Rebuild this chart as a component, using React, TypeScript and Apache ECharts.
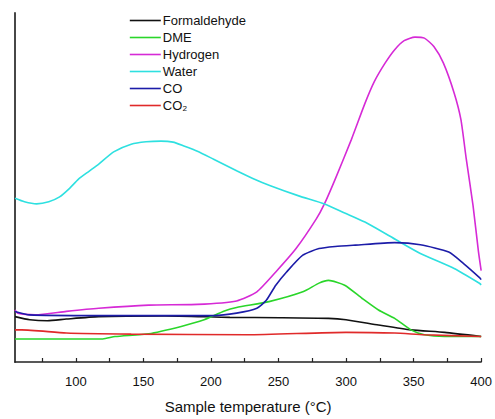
import React, { useEffect, useRef } from "react";
import * as echarts from "echarts";

// Temperature-programmed desorption traces (arbitrary signal units)
const xTickValues = [75, 100, 125, 150, 175, 200, 225, 250, 275, 300, 325, 350, 375, 400];
const xLabelValues = [100, 150, 200, 250, 300, 350, 400];

const formaldehydeT = [55, 66, 79, 93, 117, 166, 214, 251, 287, 300, 324, 348, 373, 400];
const formaldehydeV = [13.0, 12.1, 11.8, 12.3, 13.0, 13.2, 12.8, 12.7, 12.5, 12.1, 10.6, 9.2, 8.5, 7.3];

const dmeT = [55, 120, 129, 154, 178, 195, 210, 219, 243, 268, 280, 287, 299, 312, 324, 336, 348, 358, 373, 400];
const dmeV = [6.6, 6.6, 7.3, 8.1, 10.2, 12.1, 14.6, 15.6, 17.3, 20.1, 22.6, 23.4, 22.0, 18.2, 14.9, 12.5, 9.2, 7.8, 7.3, 7.3];

const hydrogenT = [55, 57, 70, 93, 117, 154, 190, 219, 234, 248, 263, 278, 284, 292, 304, 314, 321, 329, 336, 343, 351, 358, 365, 372, 380, 385, 389, 394, 398, 400];
const hydrogenV = [14.9, 14.0, 13.5, 14.5, 15.4, 16.3, 16.5, 17.5, 20.1, 25.8, 32.5, 41.0, 45.3, 52.4, 63.8, 74.1, 80.4, 85.7, 89.5, 92.1, 93.1, 92.8, 90.4, 85.7, 77.1, 69.5, 58.1, 44.8, 31.6, 26.2];

const waterT = [55, 62, 71, 80, 88, 95, 102, 110, 117, 128, 141, 152, 163, 172, 180, 190, 202, 219, 231, 244, 265, 284, 299, 314, 338, 355, 380, 399, 400];
const waterV = [46.9, 45.9, 45.3, 45.9, 47.3, 49.6, 52.4, 54.7, 56.7, 60.2, 62.4, 63.1, 63.3, 63.0, 61.9, 60.4, 58.1, 54.8, 52.6, 50.5, 47.6, 45.3, 42.7, 40.1, 34.8, 31.1, 26.8, 22.5, 22.1];

const coT = [55, 66, 117, 166, 202, 219, 234, 241, 248, 256, 268, 280, 292, 307, 336, 355, 376, 387, 399, 400];
const coV = [14.5, 13.5, 13.3, 13.3, 13.3, 14.0, 15.4, 17.7, 22.0, 25.8, 30.6, 32.5, 33.1, 33.5, 34.2, 33.6, 31.5, 28.2, 24.1, 23.6];

const co2T = [55, 60, 93, 141, 227, 300, 336, 358, 400];
const co2V = [9.2, 9.2, 8.3, 8.0, 7.8, 8.5, 8.3, 7.8, 7.3];

const FONT = "'Liberation Sans', Arial, sans-serif";

const pairs = (t: number[], v: number[]) => t.map((x, i) => [x, v[i]]);

const traces = [
  { name: "Formaldehyde", color: "#111111", t: formaldehydeT, v: formaldehydeV },
  { name: "DME", color: "#2ad62a", t: dmeT, v: dmeV },
  { name: "Hydrogen", color: "#d62ad6", t: hydrogenT, v: hydrogenV },
  { name: "Water", color: "#2ee0e0", t: waterT, v: waterV },
  { name: "CO", color: "#1c1ca8", t: coT, v: coV },
  { name: "CO\u2082", color: "#e02a2a", t: co2T, v: co2V },
];

export default function App() {
  const ref = useRef<HTMLDivElement>(null);

  useEffect(() => {
    if (!ref.current) return;
    const chart = echarts.init(ref.current, null, { renderer: "svg" });
    chart.setOption({
      animation: false,
      backgroundColor: "#ffffff",
      grid: { left: 15, right: 8, top: 13, bottom: 55 },
      legend: {
        orient: "vertical",
        left: 129,
        top: 14,
        padding: 0,
        itemWidth: 31,
        itemHeight: 14,
        itemGap: 4,
        itemStyle: { opacity: 0 },
        lineStyle: { width: 1.6 },
        textStyle: { fontFamily: FONT, fontSize: 13, color: "#111", padding: [0, 0, 0, -3] },
        data: traces.map((s) => s.name),
      },
      xAxis: {
        type: "value",
        min: 55,
        max: 400,
        name: "Sample temperature (\u00B0C)",
        nameLocation: "middle",
        nameGap: 37,
        nameTextStyle: { fontFamily: FONT, fontSize: 15, color: "#111" },
        axisLine: { show: true, lineStyle: { color: "#222", width: 1.5 } },
        axisTick: {
          show: true,
          inside: true,
          length: 4,
          customValues: xTickValues,
          lineStyle: { color: "#222", width: 1.2 },
        },
        axisLabel: {
          fontFamily: FONT,
          fontSize: 13,
          color: "#111",
          margin: 13,
          customValues: xLabelValues,
        },
        splitLine: { show: false },
      },
      yAxis: {
        type: "value",
        min: 0,
        max: 100,
        axisLine: { show: true, lineStyle: { color: "#333", width: 1.8 } },
        axisTick: { show: false },
        axisLabel: { show: false },
        splitLine: { show: false },
      },
      series: traces.map((s) => ({
        name: s.name,
        type: "line",
        data: pairs(s.t, s.v),
        symbol: "none",
        smooth: 0.2,
        lineStyle: { color: s.color, width: 1.6 },
        itemStyle: { color: s.color },
      })),
    });
    return () => chart.dispose();
  }, []);

  return (
    <div
      ref={ref}
      style={{ position: "fixed", left: 0, top: 0, width: 495, height: 419 }}
    />
  );
}
